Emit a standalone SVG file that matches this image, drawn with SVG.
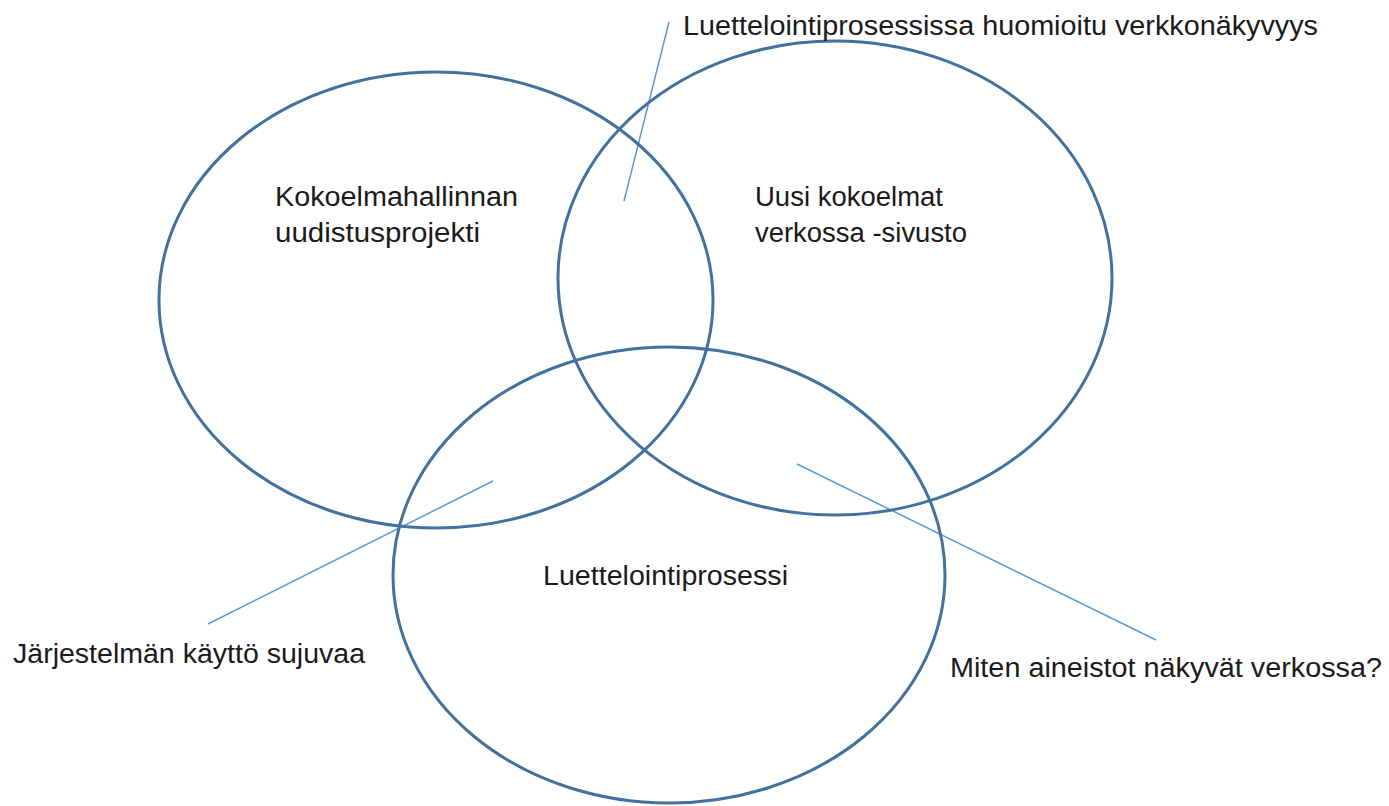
<svg xmlns="http://www.w3.org/2000/svg" width="1389" height="806" viewBox="0 0 1389 806">
<style>
.c{fill:none;stroke:#41719C;stroke-width:3}
.l{stroke:#5B9BD5;stroke-width:1.5;fill:none}
text{font-family:"Liberation Sans","Open Sans",sans-serif;font-size:27px;fill:#1a1a1a}
</style>
<rect width="1389" height="806" fill="#fff"/>
<g id="connectors">
<line class="l" x1="669" y1="22" x2="624" y2="201"/>
<line class="l" x1="493" y1="481" x2="208" y2="624"/>
<line class="l" x1="797" y1="464" x2="1156" y2="640"/>
</g>
<g id="set-kokoelmahallinta">
<ellipse class="c" cx="436" cy="300" rx="277" ry="228"/>
<text x="275" y="206" textLength="243" lengthAdjust="spacingAndGlyphs">Kokoelmahallinnan</text>
<text x="275" y="242" textLength="205" lengthAdjust="spacingAndGlyphs">uudistusprojekti</text>
</g>
<g id="set-sivusto">
<ellipse class="c" cx="835" cy="278" rx="277" ry="237"/>
<text x="755" y="206" textLength="188" lengthAdjust="spacingAndGlyphs">Uusi kokoelmat</text>
<text x="755" y="242" textLength="212" lengthAdjust="spacingAndGlyphs">verkossa -sivusto</text>
</g>
<g id="set-luettelointi">
<ellipse class="c" cx="669" cy="575" rx="276" ry="228"/>
<text x="543" y="585" textLength="245" lengthAdjust="spacingAndGlyphs">Luettelointiprosessi</text>
</g>
<g id="label-top">
<text x="683" y="35" textLength="635" lengthAdjust="spacingAndGlyphs">Luettelointiprosessissa huomioitu verkkonäkyvyys</text>
</g>
<g id="label-left">
<text x="13" y="663" textLength="352" lengthAdjust="spacingAndGlyphs">Järjestelmän käyttö sujuvaa</text>
</g>
<g id="label-right">
<text x="950" y="677" textLength="432" lengthAdjust="spacingAndGlyphs">Miten aineistot näkyvät verkossa?</text>
</g>
</svg>
